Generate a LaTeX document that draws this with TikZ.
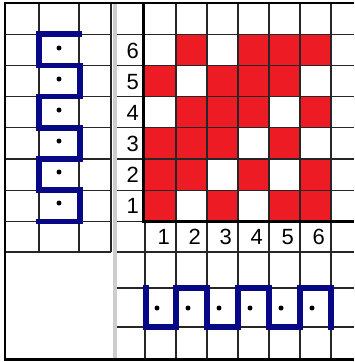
\documentclass[tikz,border=0pt]{standalone}
\usepackage{fontspec}
\setmainfont{Liberation Sans}
\usetikzlibrary{positioning}
\definecolor{cellred}{RGB}{237,28,36}
\definecolor{pathblue}{RGB}{8,8,135}
\definecolor{sepgray}{RGB}{205,205,205}

\begin{document}
\begin{tikzpicture}[
      x=1pt, y=-1pt,
      gridline/.style={draw=black!85, line width=1.1pt},
      border/.style={draw=black, line width=2.6pt},
      snake/.style={draw=pathblue, line width=5.5pt, line cap=rect, line join=miter},
      dot/.style={circle, fill=black, inner sep=0pt, minimum size=5pt},
      num/.style={anchor=east, inner sep=0pt, font=\fontsize{22}{22}\selectfont},
  ]
  \useasboundingbox (0,0) rectangle (354,362);
  \fill[white] (0,0) rectangle (354,362);

  %% red cells of the 6x6 grid
  \foreach \c/\r in {2/6,4/6,5/6,6/6, 1/5,3/5,4/5,5/5, 2/4,3/4,4/4,6/4,
                     1/3,2/3,3/3,5/3, 1/2,2/2,4/2,6/2, 1/1,3/1,5/1,6/1}
    \fill[cellred] ({144.5+31*(\c-1)}, {3+31.2*(7-\r)}) rectangle ++(31.5,31.2);

  %% separator
  \fill[sepgray] (112.5,3) rectangle (116.5,359);

  %% left panel grid
  \foreach \k in {1,...,7}
    \draw[gridline] (5,{3+31.2*\k}) -- (111,{3+31.2*\k});
  \draw[gridline] (5,252) -- (111,252);
  \foreach \x in {39,79,111}
    \draw[gridline] (\x,3) -- (\x,252);

  %% right panel grid
  \foreach \k in {1,...,6}
    \draw[gridline] (117,{3+31.2*\k}) -- (354,{3+31.2*\k});
  \draw[gridline] (117,221.4) -- (143,221.4);
  \foreach \y in {252,288,327}
    \draw[gridline] (117,\y) -- (354,\y);
  \foreach \x in {176,207,238,269,300,331}
    \draw[gridline] (\x,3) -- (\x,359);
  \draw[gridline] (145,221.4) -- (145,359);
  \draw[border] (143.5,3) -- (143.5,221.4) -- (354,221.4);

  %% outer frame
  \draw[border] (354,3) -- (5,3) -- (5,359.5) -- (354,359.5);

  %% labels
  \foreach \n/\yc in {6/51,5/82,4/113,3/144,2/175,1/206}
    \node[num] (row\n) at (139,\yc) {\n};
  \foreach \n in {1,...,6}
    \node[num] (col\n) at ({170+31*(\n-1)},237) {\n};

  %% blue meanders
  \draw[snake] (79,34.2) -- (39,34.2) -- (39,65.4) -- (80,65.4) -- (80,96.6)
    -- (39,96.6) -- (39,127.8) -- (80,127.8) -- (80,159) -- (39,159)
    -- (39,190.2) -- (80,190.2) -- (80,221.4) -- (39,221.4);
  \draw[snake] (146,288) -- (146,327) -- (176,327) -- (176,288) -- (207,288)
    -- (207,327) -- (238,327) -- (238,288) -- (269,288) -- (269,327)
    -- (300,327) -- (300,288) -- (331,288) -- (331,327);

  %% dots
  \foreach \yc [count=\i] in {48,79,110,141,172,203}
    \node[dot] (ldot\i) at (59,\yc) {};
  \foreach \i in {1,...,6}
    \node[dot] (bdot\i) at ({157+31*(\i-1)},308) {};

\end{tikzpicture}
\end{document}
